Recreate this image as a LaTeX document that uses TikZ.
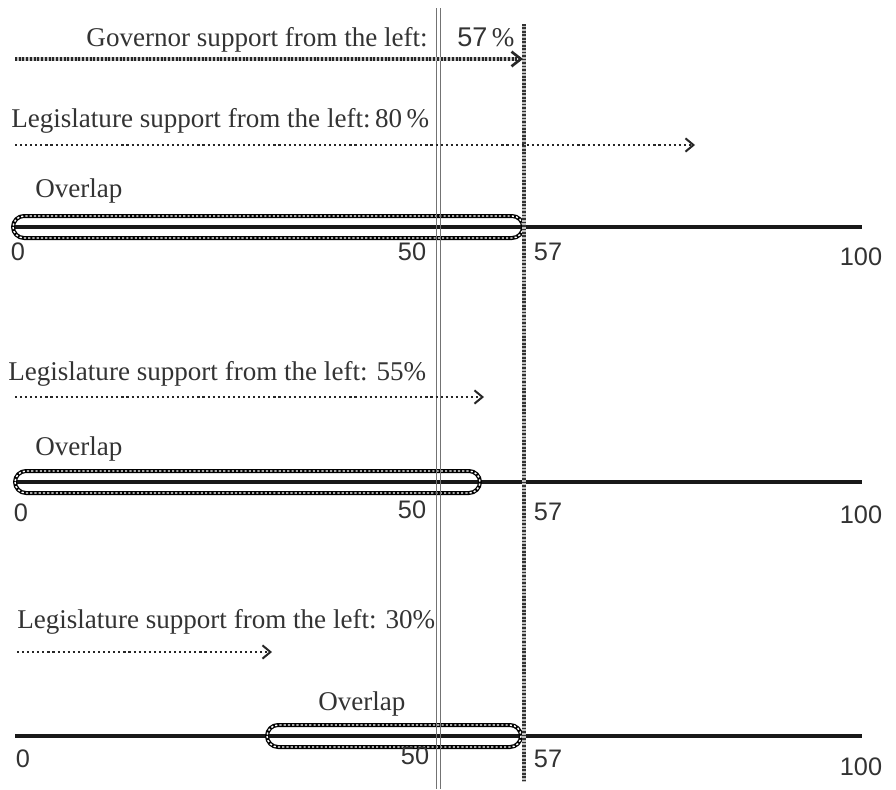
\documentclass[tikz,border=0pt]{standalone}
\usepackage{fontspec}
\setmainfont{Liberation Serif}
\newfontfamily\numfont{Liberation Sans}
\usetikzlibrary{arrows.meta}
\begin{document}
\begin{tikzpicture}[x=0.75pt,y=-0.75pt,
  lbl/.style={font=\fontsize{20.3}{24}\selectfont, inner sep=0, text=black!80},
  num/.style={font=\numfont\fontsize{19}{22}\selectfont, inner sep=0, text=black!80},
  axisline/.style={line width=2.3pt, black!90},
  pillout/.style={line width=3pt, black, rounded corners=8.25pt},
  pillin/.style={line width=1.1pt, white, dash pattern=on 1.6pt off 1.6pt, rounded corners=8.25pt},
  govbase/.style={line width=2.6pt, black!25},
  govarrow/.style={line width=2.6pt, black!85, dash pattern=on 1.5pt off 1.3pt, -{Straight Barb[length=7pt,width=11pt,line width=2pt]}},
  legarrow/.style={line width=1.7pt, black!85, dash pattern=on 1.6pt off 2.2pt, -{Straight Barb[length=6pt,width=10pt,line width=1.5pt]}},
  fiftyline/.style={line width=0.8pt, black!55},
  hatchbase/.style={line width=2.5pt, black!25},
  hatchtop/.style={line width=2.5pt, black!80, dash pattern=on 1.3pt off 1.3pt},
]
\useasboundingbox (0,0) rectangle (896,789);

% ---- number lines ----
\coordinate (a1s) at (15,227); \coordinate (a1e) at (862,227);
\coordinate (a2s) at (15,482); \coordinate (a2e) at (862,482);
\coordinate (a3s) at (15,736); \coordinate (a3e) at (862,736);
\draw[axisline] (a1s) -- (a1e);
\draw[axisline] (a2s) -- (a2e);
\draw[axisline] (a3s) -- (a3e);

% ---- overlap pills ----
\coordinate (p1a) at (13,216);  \coordinate (p1b) at (523,238);
\coordinate (p2a) at (15,471);  \coordinate (p2b) at (480,493);
\coordinate (p3a) at (267,725); \coordinate (p3b) at (521,747);
\draw[pillout] (p1a) rectangle (p1b);
\draw[pillin]  (p1a) rectangle (p1b);
\draw[pillout] (p2a) rectangle (p2b);
\draw[pillin]  (p2a) rectangle (p2b);
\draw[pillout] (p3a) rectangle (p3b);
\draw[pillin]  (p3a) rectangle (p3b);

% ---- vertical reference lines ----
\coordinate (f1t) at (436.5,8); \coordinate (f1b) at (436.5,789);
\coordinate (f2t) at (440.5,8); \coordinate (f2b) at (440.5,789);
\draw[fiftyline] (f1t) -- (f1b);
\draw[fiftyline] (f2t) -- (f2b);
\coordinate (hs) at (524,24); \coordinate (he) at (524,782);
\draw[hatchbase] (hs) -- (he);
\draw[hatchtop] (hs) -- (he);

% ---- support arrows ----
\coordinate (g0) at (15,59);  \coordinate (g1) at (523,59);
\coordinate (g1b) at (517,59);
\coordinate (l80s) at (15,145); \coordinate (l80e) at (695,145);
\coordinate (l55s) at (15,397); \coordinate (l55e) at (484,397);
\coordinate (l30s) at (17,652); \coordinate (l30e) at (272,652);
\draw[govbase] (g0) -- (g1b);
\draw[govarrow] (g0) -- (g1);
\draw[legarrow] (l80s) -- (l80e);
\draw[legarrow] (l55s) -- (l55e);
\draw[legarrow] (l30s) -- (l30e);

% ---- texts ----
\node[lbl, anchor=base east] (gov) at (428,46) {Governor support from the left:};
\node[lbl, anchor=base west] (govp) at (457,46) {{\numfont 57}\,\%};
\node[lbl, anchor=base west] (leg80) at (11,127) {Legislature support from the left:\,80\,\%};
\node[lbl, anchor=base west] (leg55) at (8,380) {Legislature support from the left: 55\%};
\node[lbl, anchor=base west] (leg30) at (17,628) {Legislature support from the left: 30\%};
\node[lbl, anchor=base west] (ov1) at (35,197) {Overlap};
\node[lbl, anchor=base west] (ov2) at (35,455) {Overlap};
\node[lbl, anchor=base west] (ov3) at (318,710) {Overlap};

% ---- numbers ----
\node[num] (n10) at (18,252) {0};
\node[num] (n150) at (412,252) {50};
\node[num] (n157) at (548,252) {57};
\node[num] (n1100) at (861,257) {100};
\node[num] (n20) at (21,513) {0};
\node[num] (n250) at (412,510) {50};
\node[num] (n257) at (548,512) {57};
\node[num] (n2100) at (861,515) {100};
\node[num] (n30) at (23,759) {0};
\node[num] (n350) at (415,756) {50};
\node[num] (n357) at (548,759) {57};
\node[num] (n3100) at (861,767) {100};
\end{tikzpicture}
\end{document}
